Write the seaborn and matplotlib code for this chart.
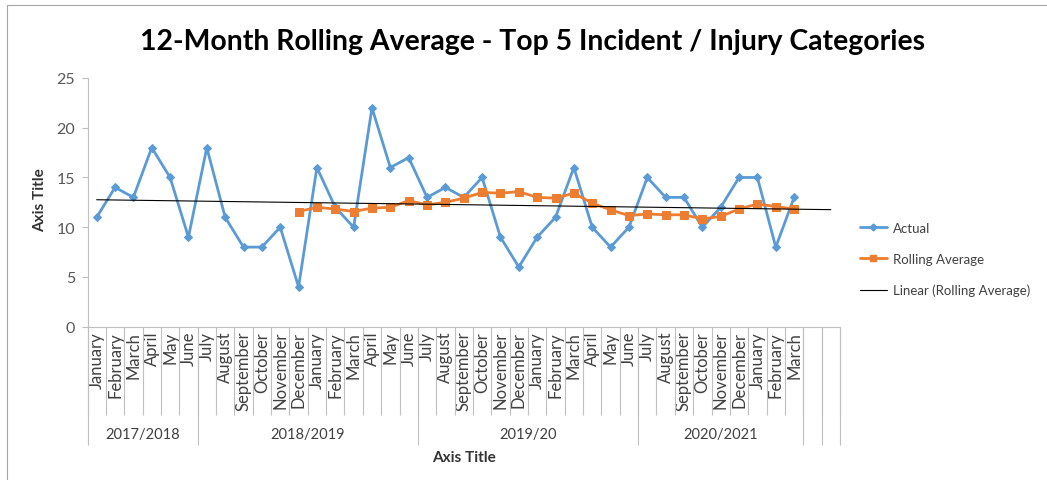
import numpy as np
import pandas as pd
import matplotlib
matplotlib.use("Agg")
import matplotlib.pyplot as plt
from matplotlib.lines import Line2D
import seaborn as sns

# Monthly incident / injury counts, January 2018 - March 2021
months = [
    "January", "February", "March", "April", "May", "June",
    "July", "August", "September", "October", "November", "December",
    "January", "February", "March", "April", "May", "June",
    "July", "August", "September", "October", "November", "December",
    "January", "February", "March", "April", "May", "June",
    "July", "August", "September", "October", "November", "December",
    "January", "February", "March",
]
extra_slots = ["", ""]          # two empty categories at the end of the axis

actual = [11, 14, 13, 18, 15, 9,
          18, 11, 8, 8, 10, 4, 16, 12, 10, 22, 16, 17,
          13, 14, 13, 15, 9, 6, 9, 11, 16, 10, 8, 10,
          15, 13, 13, 10, 12, 15, 15, 8, 13]

# 12-month rolling average, first available in December 2018
rolling_start = 11
rolling = [11.58, 12.00, 11.83, 11.58, 11.92, 12.00, 12.67,
           12.25, 12.50, 12.92, 13.50, 13.42, 13.58, 13.00, 12.92, 13.42, 12.42, 11.75, 11.17,
           11.33, 11.25, 11.25, 10.83, 11.08, 11.83, 12.33, 12.08, 11.83]

# Financial-year groups: (label, first index, last index)
groups = [("2017/2018", 0, 5), ("2018/2019", 6, 17), ("2019/20", 18, 29), ("2020/2021", 30, 38)]

categories = months + extra_slots
n_cat = len(categories)

df_actual = pd.DataFrame({"pos": np.arange(len(actual)), "value": actual})
df_roll = pd.DataFrame({"pos": np.arange(rolling_start, rolling_start + len(rolling)), "value": rolling})

# Linear trend of the rolling average across the whole category axis
slope, intercept = np.polyfit(df_roll["pos"], df_roll["value"], 1)
trend_x = np.arange(n_cat)
df_trend = pd.DataFrame({"pos": trend_x, "value": intercept + slope * trend_x})

sns.set_theme(style="white")
plt.rcParams["font.family"] = ["Lato", "DejaVu Sans"]

W, H = 1047, 481
fig = plt.figure(figsize=(W / 100, H / 100), dpi=100)
x0, x1, y0, y1 = 87.5, 840, 79, 327.7
ax = fig.add_axes([x0 / W, 1 - y1 / H, (x1 - x0) / W, (y1 - y0) / H])

blue = "#5B9BD5"
orange = "#ED7D31"
grey_text = "#595959"
label_text = "#404040"
axis_grey = "#BFBFBF"

sns.lineplot(data=df_actual, x="pos", y="value", ax=ax, color=blue, lw=2.0,
             marker="D", markersize=4.5, markeredgecolor=blue)
sns.lineplot(data=df_roll, x="pos", y="value", ax=ax, color=orange, lw=2.0,
             marker="s", markersize=5.5, markeredgecolor=orange)
sns.lineplot(data=df_trend, x="pos", y="value", ax=ax, color="black", lw=0.8)

ax.set_xlim(-0.5, n_cat - 0.5)
ax.set_ylim(0, 25)
ax.set_yticks(range(0, 26, 5))
ax.tick_params(axis="y", length=4, width=0.8, color=axis_grey, labelsize=11.5,
               labelcolor=grey_text, pad=5, left=True)

# Month labels at category centres, separators at category boundaries
ax.set_xticks(range(n_cat))
ax.set_xticklabels(categories, rotation=90, va="top", ha="center")
ax.tick_params(axis="x", which="major", length=0, labelsize=12, labelcolor=label_text, pad=3)
ax.set_xticks(np.arange(-0.5, n_cat), minor=True)
ax.tick_params(axis="x", which="minor", length=63, width=0.8, color=axis_grey, bottom=True)

for side in ["top", "right"]:
    ax.spines[side].set_visible(False)
for side in ["left", "bottom"]:
    ax.spines[side].set_color(axis_grey)
    ax.spines[side].set_linewidth(0.8)
ax.grid(False)

# Longer separators between financial years
long_px = 118
long_frac = long_px / (y1 - y0)
bounds = [g[1] - 0.5 for g in groups] + [groups[-1][2] + 0.5 + k for k in range(len(extra_slots) + 1)]
ax.vlines(bounds, -long_frac, 0, transform=ax.get_xaxis_transform(),
          colors=axis_grey, lw=0.8, clip_on=False)

for label, a, b in groups:
    ax.annotate(label, xy=((a + b) / 2, 0), xycoords=("data", "axes fraction"),
                xytext=(0, -(435 - y1) * 0.72), textcoords="offset points",
                ha="center", va="center", fontsize=10.5, color=label_text)

ax.set_xlabel("Axis Title", fontsize=11, fontweight="bold", color="#333333")
ax.xaxis.set_label_coords(0.5, -(458 - y1) / (y1 - y0))
ax.xaxis.label.set_va("center")
ax.set_ylabel("Axis Title", fontsize=11, fontweight="bold", color="#333333")
ax.yaxis.set_label_coords((40 - x0) / (x1 - x0), (y1 - 200) / (y1 - y0))
ax.yaxis.label.set_va("center")

fig.text(533 / W, 1 - 42 / H, "12-Month Rolling Average - Top 5 Incident / Injury Categories",
         ha="center", va="center", fontsize=20.4, fontweight="bold", color="black")

handles = [
    Line2D([], [], color=blue, lw=2.0, marker="D", markersize=3.5),
    Line2D([], [], color=orange, lw=2.0, marker="s", markersize=4.5),
    Line2D([], [], color="black", lw=0.8),
]
ax.legend(handles, ["Actual", "Rolling Average", "Linear (Rolling Average)"],
          loc="center left", bbox_to_anchor=(853 / W, 1 - 260 / H),
          bbox_transform=fig.transFigure, frameon=False, fontsize=9.5,
          handlelength=2.1, handletextpad=0.4, labelspacing=1.45, borderpad=0,
          labelcolor=label_text)

# Chart frame edges
fig.add_artist(Line2D([7 / W, 7 / W], [0, 1 - 6 / H], transform=fig.transFigure, color="#A6A6A6", lw=0.8))
fig.add_artist(Line2D([7 / W, 1], [1 - 6 / H, 1 - 6 / H], transform=fig.transFigure, color="#A6A6A6", lw=0.8))

fig.savefig("out.png", dpi=100)
